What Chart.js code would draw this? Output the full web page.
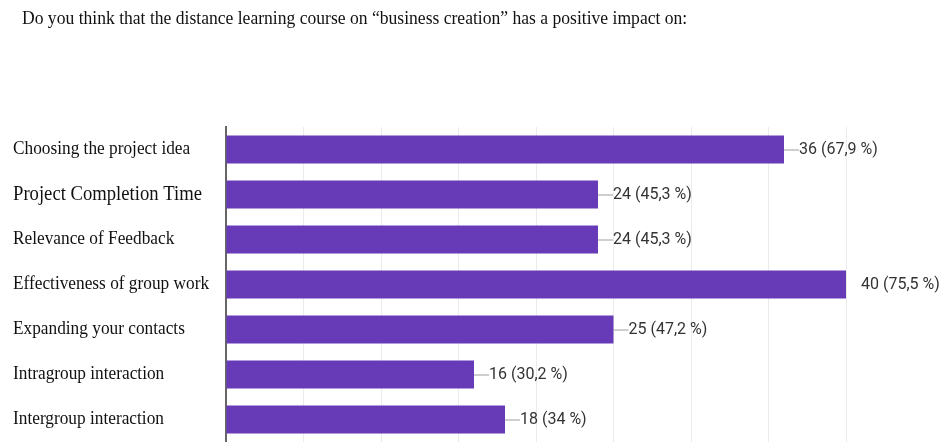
<!DOCTYPE html>
<html>
<head>
<meta charset="utf-8">
<script src="https://cdn.jsdelivr.net/npm/chart.js@4.4.1/dist/chart.umd.min.js"></script>
<style>
  html, body { margin: 0; padding: 0; background: #fff; }
  #wrap { width: 946px; height: 442px; position: relative; }
</style>
</head>
<body>
<div id="wrap"><canvas id="chart"></canvas></div>
<script>
var title = 'Do you think that the distance learning course on \u201cbusiness creation\u201d has a positive impact on:';
var categories = [
    'Choosing the project idea',
    'Project Completion Time',
    'Relevance of Feedback',
    'Effectiveness of group work',
    'Expanding your contacts',
    'Intragroup interaction',
    'Intergroup interaction'
];
var counts = [36, 24, 24, 40, 25, 16, 18];
var percents = [67.9, 45.3, 45.3, 75.5, 47.2, 30.2, 34];

// the original labels were pasted with mixed sizes
var labelSizes = [19, 20.5, 19, 19, 19, 19, 19];
var squeeze = 0.91;

var labelsPlugin = {
    id: 'labels',
    afterDraw: function (chart) {
        var ctx = chart.ctx;
        var xs = chart.scales.x;
        var ys = chart.scales.y;
        var area = chart.chartArea;

        // title
        ctx.save();
        ctx.fillStyle = '#111';
        ctx.textBaseline = 'alphabetic';
        ctx.font = '19px "Liberation Serif"';
        ctx.translate(22, 24);
        ctx.scale(0.925, 1);
        ctx.fillText(title, 0, 0);
        ctx.restore();

        categories.forEach(function (name, i) {
            var y = ys.getPixelForValue(i);

            // category label on the left
            ctx.save();
            ctx.fillStyle = '#111';
            ctx.textBaseline = 'middle';
            ctx.font = labelSizes[i] + 'px "Liberation Serif"';
            ctx.translate(13, y);
            ctx.scale(squeeze, 1);
            ctx.fillText(name, 0, 0);
            ctx.restore();

            // leader line, clipped to the plot like the original
            var xEnd = xs.getPixelForValue(counts[i]);
            ctx.save();
            ctx.beginPath();
            ctx.rect(area.left, area.top, area.right - area.left, area.bottom - area.top);
            ctx.clip();
            ctx.strokeStyle = '#9e9e9e';
            ctx.lineWidth = 1;
            ctx.beginPath();
            ctx.moveTo(xEnd, y + 0.5);
            ctx.lineTo(xEnd + 15, y + 0.5);
            ctx.stroke();
            ctx.restore();

            // value label
            var pct = String(percents[i]).replace('.', ',');
            ctx.save();
            ctx.fillStyle = '#333';
            ctx.textBaseline = 'middle';
            ctx.font = '16px Roboto';
            ctx.fillText(counts[i] + ' (' + pct + ' %)', xEnd + 15, y);
            ctx.restore();
        });
    }
};

new Chart(document.getElementById('chart'), {
    type: 'bar',
    data: {
        labels: categories,
        datasets: [{
            data: counts,
            backgroundColor: '#673ab7',
            borderWidth: 0,
            barPercentage: 0.62,
            categoryPercentage: 1
        }]
    },
    options: {
        indexAxis: 'y',
        responsive: true,
        maintainAspectRatio: false,
        animation: false,
        layout: { padding: { left: 10, top: 127, right: 100, bottom: 0 } },
        plugins: {
            legend: { display: false },
            tooltip: { enabled: false }
        },
        scales: {
            x: {
                min: 0,
                max: 40,
                ticks: { display: false, stepSize: 5 },
                grid: { color: '#ebebeb', drawTicks: false },
                border: { display: false }
            },
            y: {
                ticks: { display: false },
                grid: { display: false, drawTicks: false },
                border: { color: '#666', width: 2 },
                afterFit: function (s) { s.width = 216; }
            }
        }
    },
    plugins: [labelsPlugin]
});
</script>
</body>
</html>
